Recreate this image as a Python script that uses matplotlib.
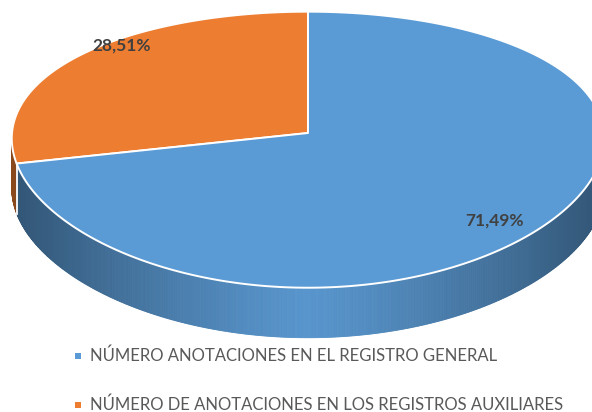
import numpy as np
import matplotlib
matplotlib.use("Agg")
import matplotlib.pyplot as plt
from matplotlib.patches import Polygon

# ---- data ----
categories = ["NÚMERO ANOTACIONES EN EL REGISTRO GENERAL",
              "NÚMERO DE ANOTACIONES EN LOS REGISTROS AUXILIARES"]
values = [71.49, 28.51]
labels = ["71,49%", "28,51%"]
colors = ["#5B9BD5", "#ED7D31"]

# ---- geometry of the 3D disc (pixel space) ----
W, H = 592, 412
cx, cy = 308, 133
R = 296.0
k = 136.0
p = 0.121
px = 0.04
depth = 50

fig = plt.figure(figsize=(W / 100, H / 100), dpi=100)
ax = fig.add_axes([0, 0, 1, 1])
ax.set_xlim(0, W)
ax.set_ylim(H, 0)
ax.axis("off")


def proj(a, r=1.0, z=0.0):
    s = np.sin(a) * r
    c = np.cos(a) * r
    f = 1.0 / (1.0 + p * s)
    fx = 1.0 / (1.0 + px * s)
    return cx + R * c * fx, cy - k * s * f + z


# slice angle ranges: start at top (90 deg), orange goes counter-clockwise first
total = sum(values)
frac_or = values[1] / total
a0 = np.pi / 2
a_split = a0 + 2 * np.pi * frac_or
ranges = {1: (a0, a_split), 0: (a_split, a0 + 2 * np.pi)}


def shade(col, fac):
    rgb = np.array(matplotlib.colors.to_rgb(col))
    return tuple(np.clip(rgb * fac, 0, 1))


# ---- side walls ----
for idx in (1, 0):
    s0, s1 = ranges[idx]
    lo = max(s0, np.pi)
    hi = min(s1, 2 * np.pi)
    if hi <= lo:
        continue
    n = int((hi - lo) / (np.pi / 600)) + 2
    angs = np.linspace(lo, hi, n)
    for a1, a2 in zip(angs[:-1], angs[1:]):
        x1, y1 = proj(a1)
        x2, y2 = proj(a2)
        am = 0.5 * (a1 + a2)
        fac = 0.96 - 0.42 * abs(np.cos(am)) ** 1.2
        if idx == 1:
            fac = 0.58
        poly = Polygon([(x1, y1), (x2, y2), (x2, y2 + depth), (x1, y1 + depth)],
                       closed=True, facecolor=shade(colors[idx], fac),
                       edgecolor=shade(colors[idx], fac), linewidth=0.6,
                       zorder=1)
        ax.add_patch(poly)

# white vertical edge at slice boundary on the side
xb, yb = proj(a_split)
ax.plot([xb, xb], [yb, yb + depth], color="white", lw=1.3, zorder=2)

# ---- top faces ----
for idx in (1, 0):
    s0, s1 = ranges[idx]
    angs = np.linspace(s0, s1, 400)
    xs, ys = proj(angs)
    pts = [(cx, cy)] + list(zip(xs, ys))
    ax.add_patch(Polygon(pts, closed=True, facecolor=colors[idx],
                         edgecolor="white", linewidth=1.4, zorder=3,
                         joinstyle="round"))

# ---- labels ----
for idx in (0, 1):
    s0, s1 = ranges[idx]
    am = 0.5 * (s0 + s1)
    lx = cx + 0.805 * R * np.cos(am)
    ly = cy - 1.03 * k * np.sin(am)
    ax.text(lx, ly, labels[idx], ha="center", va="center", fontsize=12.5,
            fontweight="bold", color="#404040", family="Lato", zorder=5)

# ---- legend ----
leg_y = [356, 405]
for i, (cat, col) in enumerate(zip(categories, colors)):
    ax.add_patch(plt.Rectangle((75, leg_y[i] - 3), 6, 6, facecolor=col,
                               edgecolor="none", zorder=5))
    ax.text(90, leg_y[i], cat, ha="left", va="center", fontsize=12,
            color="#595959", family="Lato", zorder=5)

fig.savefig("out.png", dpi=100)
